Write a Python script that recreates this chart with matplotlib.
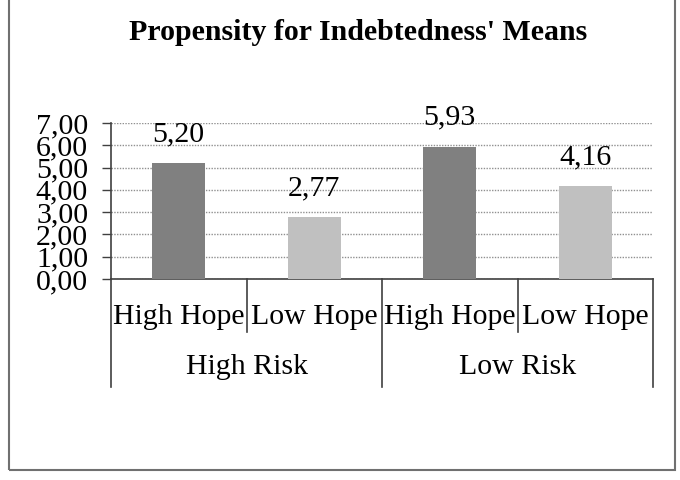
import numpy as np
import matplotlib.pyplot as plt
from matplotlib.patches import Rectangle

groups = ['High Risk', 'Low Risk']
hopes = ['High Hope', 'Low Hope', 'High Hope', 'Low Hope']
means = [5.20, 2.77, 5.93, 4.16]
colors = ['#808080', '#c0c0c0', '#808080', '#c0c0c0']
yticks = [0, 1, 2, 3, 4, 5, 6, 7]

plt.rcParams['font.family'] = ['Liberation Serif', 'DejaVu Serif']
fs = 21.5

fig = plt.figure(figsize=(6.8, 4.8), dpi=100)
ax = fig.add_axes([111/680, 1 - 279/480, (653 - 111)/680, (279 - 123)/480])

x = np.arange(len(means))
ax.bar(x, means, width=0.39, color=colors, zorder=3)
for xi, v in zip(x, means):
    ax.annotate(f'{v:.2f}'.replace('.', ','), (xi, v), xytext=(0, 21),
                textcoords='offset points', ha='center', va='center', fontsize=fs)

ax.set_xlim(-0.5, len(means) - 0.5)
ax.set_ylim(0, 7)
ax.set_yticks(yticks)
ax.set_yticklabels([f'{t:.2f}'.replace('.', ',') for t in yticks], fontsize=fs)
ax.tick_params(axis='y', length=6.5, width=1, pad=10, color='#404040')
ax.set_xticks([])
ax.yaxis.grid(True, linestyle=(0, (1, 1)), color='#909090', linewidth=1, zorder=0)
for s in ['top', 'right']:
    ax.spines[s].set_visible(False)
for s in ['left', 'bottom']:
    ax.spines[s].set_color('#404040')
    ax.spines[s].set_linewidth(1.2)

# multi-level category axis
tr = ax.get_xaxis_transform()
for b in [0.5, 2.5]:
    ax.plot([b, b], [0, -0.34], transform=tr, color='#404040', lw=1.2, clip_on=False)
for b in [-0.5, 1.5, 3.5]:
    ax.plot([b, b], [0, -0.69], transform=tr, color='#404040', lw=1.2, clip_on=False)
for xi, lab in zip(x, hopes):
    ax.text(xi, -0.244, lab, transform=tr, ha='center', va='center', fontsize=fs)
for gi, g in enumerate(groups):
    ax.text(2 * gi + 0.5, -0.564, g, transform=tr, ha='center', va='center', fontsize=fs)

fig.text(358/680, 1 - 33/480, "Propensity for Indebtedness' Means",
         ha='center', va='center', fontsize=21.5, fontweight='bold')

# chart frame (top edge is cut off in the reference)
fig.patches.append(Rectangle((9/680, 1 - 470/480), (675 - 9)/680, 480/480,
                             transform=fig.transFigure, fill=False,
                             edgecolor='#707070', linewidth=1.5))

fig.savefig('out.png', dpi=100)
